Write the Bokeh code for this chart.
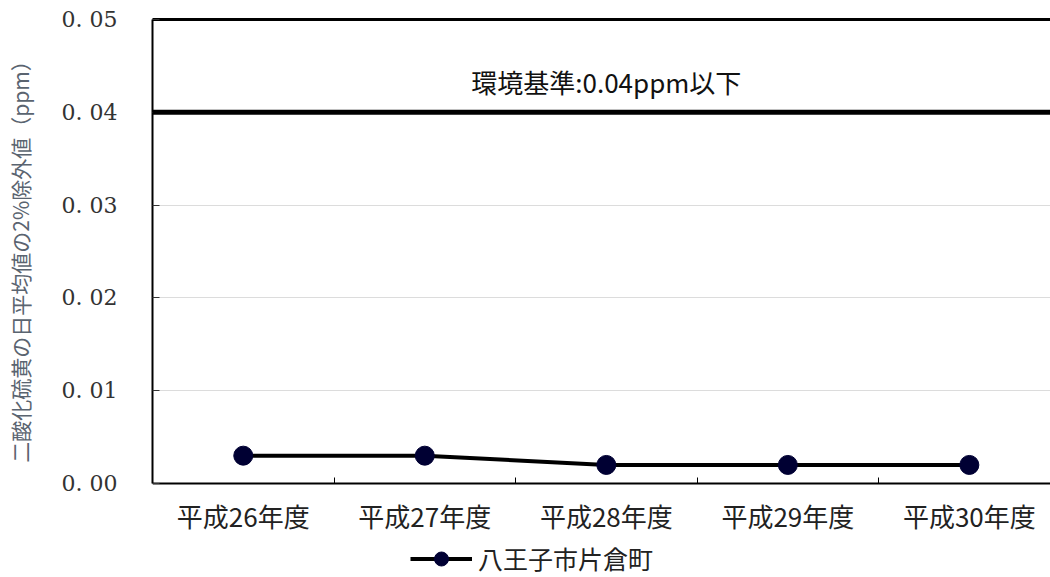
from bokeh.plotting import figure
from bokeh.models import (Range1d, FixedTicker, LinearAxis, Span, Label,
                          Legend, LegendItem)
from bokeh.embed import file_html
from bokeh.resources import INLINE

# 二酸化硫黄 日平均値の2%除外値（八王子市片倉町）
categories = ["平成26年度", "平成27年度", "平成28年度", "平成29年度", "平成30年度"]
station = "八王子市片倉町"
values = [0.003, 0.003, 0.002, 0.002, 0.002]
standard = 0.04
y_ticks = [0.0, 0.01, 0.02, 0.03, 0.04, 0.05]
y_tick_labels = ["0. 00", "0. 01", "0. 02", "0. 03", "0. 04", "0. 05"]
y_title = "二酸化硫黄の日平均値の2%除外値（ppm）"

JP = "Noto Sans CJK JP"
xs = list(range(len(categories)))

# The frame runs down to the bottom edge so that the category labels and the
# legend can live inside it; the x axis is pinned at zero.
y_lo, y_hi = y_ticks[0], y_ticks[-1]
px_per_unit = 464 / (y_hi - y_lo)
p = figure(width=1050, height=577, output_backend="svg", toolbar_location=None,
           x_range=Range1d(-0.5, 4.447),
           y_range=Range1d(y_lo - 94 / px_per_unit, y_hi),
           min_border_left=152, min_border_right=0, min_border_top=19,
           min_border_bottom=0)
p.outline_line_color = None
p.background_fill_color = "white"
p.border_fill_color = "white"

# x axis: category names at centres, small inner ticks between categories
xa = p.xaxis[0]
xa.fixed_location = y_lo
xa.ticker = FixedTicker(ticks=xs, minor_ticks=[i + 0.5 for i in xs])
xa.major_label_overrides = {i: c for i, c in zip(xs, categories)}
xa.major_tick_line_color = None
xa.minor_tick_in = 6
xa.minor_tick_out = 0
xa.minor_tick_line_color = "black"
xa.axis_line_color = "black"
xa.axis_line_width = 2
xa.major_label_text_font = JP
xa.major_label_text_font_size = "26px"
xa.major_label_text_color = "#222222"
xa.major_label_standoff = 7

# y axis
ya = p.yaxis[0]
ya.bounds = (y_lo, y_hi)
ya.ticker = FixedTicker(ticks=y_ticks)
ya.major_label_overrides = {t: s for t, s in zip(y_ticks, y_tick_labels)}
ya.major_tick_in = 7
ya.major_tick_out = 0
ya.major_tick_line_color = "#333333"
ya.minor_tick_line_color = None
ya.axis_line_color = "black"
ya.axis_line_width = 2
ya.major_label_text_font = "DejaVu Serif"
ya.major_label_text_font_size = "22px"
ya.major_label_text_color = "#333333"
ya.major_label_standoff = 35
# leading ideographic spaces lift the title so it is centred on the value
# range rather than on the taller frame
ya.axis_label = "\u3000" * 4 + y_title
ya.axis_label_text_font = JP
ya.axis_label_text_font_size = "21px"
ya.axis_label_text_font_style = "normal"
ya.axis_label_text_color = "#5a6470"
ya.axis_label_standoff = 24

# top border of the plotting area
top = LinearAxis(ticker=FixedTicker(ticks=[]), axis_line_width=3,
                 axis_line_color="black", major_label_standoff=0,
                 major_tick_line_color=None, minor_tick_line_color=None)
p.add_layout(top, "above")

p.xgrid.grid_line_color = None
p.ygrid.grid_line_color = "#dcdcdc"
p.ygrid.grid_line_width = 1
p.ygrid.ticker = FixedTicker(ticks=y_ticks[1:])

# environmental standard
p.add_layout(Span(location=standard, dimension="width", line_color="black",
                  line_width=5))
p.add_layout(Label(x=xs[len(xs) // 2], y=standard,
                   text=f"環境基準:{standard}ppm以下", text_font=JP,
                   text_font_size="26px", text_color="#111111",
                   text_align="center", text_baseline="bottom", y_offset=12))

ln = p.line(xs, values, line_color="black", line_width=4)
pt = p.scatter(xs, values, size=19, fill_color="#000033", line_color="#000033")

legend = Legend(items=[LegendItem(label=station, renderers=[ln, pt])],
                location=(258, 1), orientation="horizontal",
                border_line_color=None, background_fill_alpha=0,
                label_text_font=JP, label_text_font_size="25px",
                label_text_color="#222222", glyph_width=62, glyph_height=35,
                label_standoff=6, padding=0, margin=0)
p.add_layout(legend, "center")

open("out.html", "w").write(file_html(p, INLINE))
